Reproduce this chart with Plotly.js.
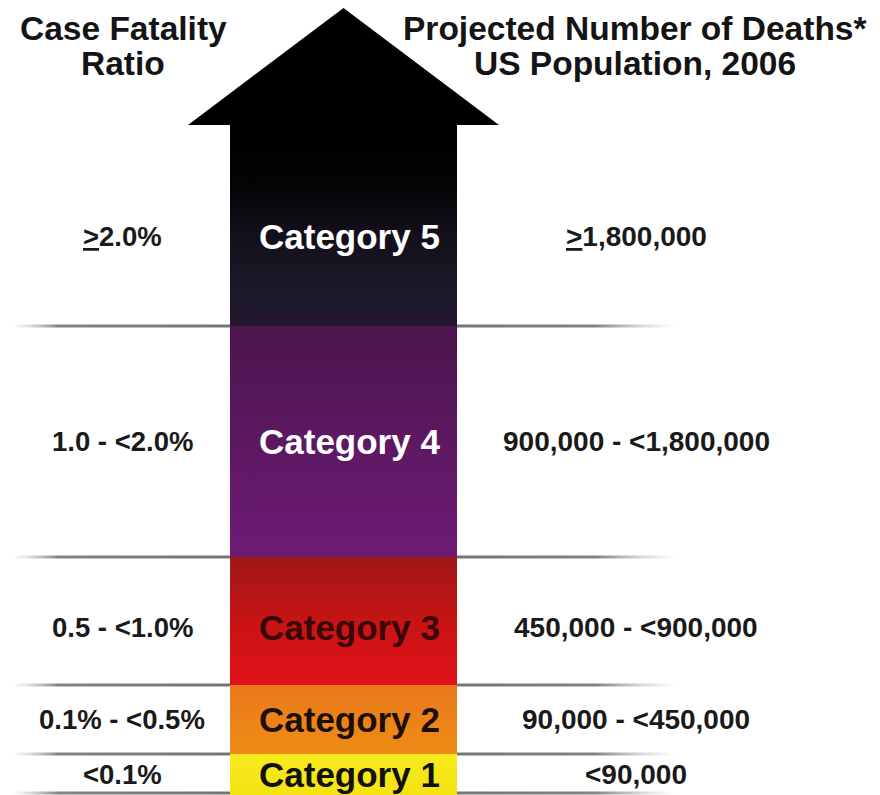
<!DOCTYPE html>
<html><head><meta charset="utf-8">
<script src="https://cdn.plot.ly/plotly-3.0.1.min.js"></script>
<style>html,body{margin:0;padding:0;background:#fff}</style>
</head><body><div id="chart" style="width:880px;height:795px"></div>
<script>
// ---- data ----
const categories = ["Category 1", "Category 2", "Category 3", "Category 4", "Category 5"];
const cfrLabels = ["<0.1%", "0.1% - <0.5%", "0.5 - <1.0%", "1.0 - <2.0%", "<u>></u>2.0%"];
const deathLabels = ["<90,000", "90,000 - <450,000", "450,000 - <900,000", "900,000 - <1,800,000", "<u>></u>1,800,000"];
const headerLeft = ["Case Fatality", "Ratio"];
const headerRight = ["Projected Number of Deaths*", "US Population, 2006"];

// ---- geometry / styling (layout, not data) ----
const W = 880, H = 795;
const bandHeights = [41, 69, 128, 231, 201];
const headHeight = 117;
const shaftLeft = 230, shaftRight = 457, headOverhang = 42;
const leftColX = 122, rightColX = 636, catX = 349;
const labelShift = [0, 0, -6, 0, -11];
const bandScales = [
  [[0, '#f3e313'], [1, '#f8ea1e']],
  [[0, '#ef8c17'], [1, '#e8791c']],
  [[0, '#e2101a'], [0.5, '#c61414'], [1, '#a01717']],
  [[0, '#6d1b75'], [0.5, '#5d1862'], [1, '#4a154c']],
  [[0, '#26152f'], [0.12, '#1d1a2c'], [0.45, '#13101b'], [0.7, '#040305'], [1, '#000000']]
];
const catTextColors = ['#111111', '#1c1006', '#3a0707', '#ffffff', '#ffffff'];

const traces = [];
const annotations = [];

// band boundaries
const bounds = [0];
bandHeights.forEach(h => bounds.push(bounds[bounds.length - 1] + h));
const headBase = bounds[bounds.length - 1];
const tipY = headBase + headHeight;

// separator lines (behind the arrow)
const sepYs = [2].concat(bounds.slice(1, bounds.length - 1));
sepYs.forEach(y => {
  traces.push({
    type: 'scatter', mode: 'lines', line: {width: 0},
    x: [12, 675, 675, 12, 12], y: [y - 1.5, y - 1.5, y + 1.5, y + 1.5, y - 1.5],
    fill: 'toself',
    fillgradient: {type: 'horizontal', colorscale: [
      [0, 'rgba(160,160,160,0)'], [0.07, 'rgba(100,100,100,0.8)'], [0.5, 'rgba(80,80,80,0.85)'],
      [0.88, 'rgba(100,100,100,0.8)'], [1, 'rgba(160,160,160,0)']]},
    hoverinfo: 'skip', showlegend: false
  });
});

// arrow shaft bands
categories.forEach((c, i) => {
  const y0 = bounds[i], y1 = bounds[i + 1];
  traces.push({
    type: 'scatter', mode: 'lines', line: {width: 0},
    x: [shaftLeft, shaftRight, shaftRight, shaftLeft, shaftLeft],
    y: [y0, y0, y1, y1, y0],
    fill: 'toself',
    fillgradient: {type: 'vertical', colorscale: bandScales[i]},
    hoverinfo: 'skip', showlegend: false
  });
  const ym = (y0 + y1) / 2;
  const font = {family: 'Liberation Sans, Arial, sans-serif', weight: 700};
  annotations.push({x: catX, y: ym, yshift: labelShift[i], text: c, showarrow: false,
    font: Object.assign({}, font, {size: 35, color: catTextColors[i]})});
  annotations.push({x: leftColX, y: ym, yshift: labelShift[i], text: cfrLabels[i], showarrow: false,
    font: Object.assign({}, font, {size: 27.5, color: '#1a1a1a'})});
  annotations.push({x: rightColX, y: ym, yshift: labelShift[i], text: deathLabels[i], showarrow: false,
    font: Object.assign({}, font, {size: 28, color: '#1a1a1a'})});
});

// arrow head
const mid = (shaftLeft + shaftRight) / 2;
traces.push({
  type: 'scatter', mode: 'lines', line: {width: 0},
  x: [shaftLeft - headOverhang, mid, shaftRight + headOverhang, shaftLeft - headOverhang],
  y: [headBase, tipY, headBase, headBase],
  fill: 'toself', fillcolor: '#000000', hoverinfo: 'skip', showlegend: false
});

// headers
const hfont = {family: 'Liberation Sans, Arial, sans-serif', weight: 700, size: 33.5, color: '#141414'};
const headerYs = [H - 28, H - 63];
headerLeft.forEach((t, i) => annotations.push({x: leftColX + 1, y: headerYs[i], text: t, showarrow: false, font: hfont}));
headerRight.forEach((t, i) => annotations.push({x: rightColX - 1, y: headerYs[i], text: t, showarrow: false, font: hfont}));

const layout = {
  width: W, height: H,
  margin: {l: 0, r: 0, t: 0, b: 0},
  paper_bgcolor: '#ffffff', plot_bgcolor: '#ffffff',
  xaxis: {range: [0, W], visible: false, fixedrange: true},
  yaxis: {range: [0, H], visible: false, fixedrange: true},
  showlegend: false, hovermode: false,
  annotations: annotations
};
Plotly.newPlot('chart', traces, layout, {staticPlot: true, displayModeBar: false});
</script>
</body></html>
